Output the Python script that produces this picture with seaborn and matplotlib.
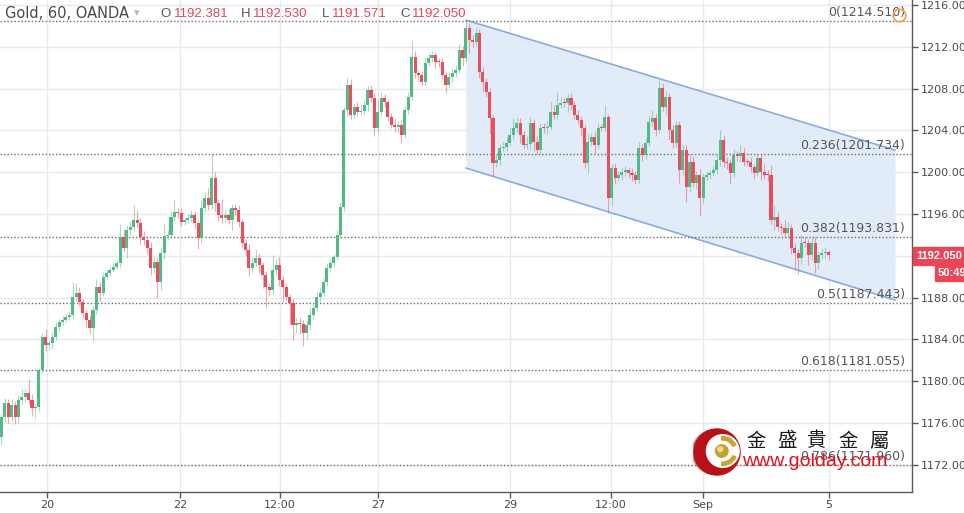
import numpy as np
import pandas as pd
import matplotlib
matplotlib.use("Agg")
import matplotlib.pyplot as plt
import seaborn as sns
from matplotlib.patches import Circle, Wedge, Rectangle

# ---------------- data ----------------
first_open = 1174.66
closes = [
    1176.58, 1177.91, 1176.58, 1177.72, 1176.58, 1178.20, 1178.49, 1178.87, 1178.20, 1177.44,
    1177.53, 1181.07, 1184.23, 1183.47, 1183.66, 1184.23, 1185.19, 1185.67, 1185.86, 1186.14,
    1186.33, 1188.06, 1188.44, 1187.58, 1186.53, 1185.86, 1185.09, 1186.81, 1189.01, 1188.44,
    1189.97, 1190.35, 1190.64, 1190.93, 1191.31, 1193.80, 1192.75, 1194.47,
    1194.76, 1195.43, 1195.14, 1193.80, 1193.51, 1192.75, 1190.83, 1191.41, 1189.49, 1192.27,
    1193.90, 1193.99, 1195.71, 1196.19, 1196.10, 1195.24, 1195.43, 1195.62, 1195.90, 1195.14,
    1193.70, 1196.57, 1197.53, 1196.86, 1199.44, 1197.05, 1195.90, 1195.62, 1195.90, 1195.43,
    1196.57, 1196.38, 1195.24, 1193.22, 1192.56, 1190.83, 1191.31, 1191.79, 1191.12, 1190.16,
    1189.01, 1188.73, 1190.64, 1191.12, 1189.68, 1189.01, 1188.06, 1187.48, 1185.38, 1185.57,
    1185.50, 1184.61, 1185.38, 1186.33, 1187.00, 1188.06, 1188.44, 1189.49, 1190.83, 1191.31,
    1191.89, 1193.99, 1196.67,
    1205.95, 1208.34, 1205.47, 1206.24, 1205.76, 1205.86, 1206.43, 1207.87, 1207.10, 1204.23,
    1205.76, 1207.10, 1206.72, 1205.28, 1204.52, 1204.33, 1204.52, 1203.56, 1205.95, 1207.20,
    1211.02, 1209.49, 1209.30, 1208.63, 1210.45, 1210.93, 1211.22, 1210.55, 1210.50, 1209.30,
    1208.34, 1209.11, 1209.49, 1209.78, 1211.69, 1210.93, 1213.80, 1212.65, 1212.46, 1213.32,
    1209.59, 1208.63, 1207.67, 1205.19, 1200.88, 1201.17,
    1202.32, 1202.41, 1202.79, 1203.56, 1204.23, 1204.71, 1203.56, 1202.60, 1202.70, 1204.71,
    1202.89, 1202.12, 1204.23, 1204.20, 1204.33, 1205.76, 1205.47, 1206.43, 1206.62, 1206.60,
    1207.10, 1206.43, 1205.47, 1205.00, 1204.23, 1200.88,
    1202.89, 1203.37, 1202.60, 1204.23, 1204.20, 1205.28, 1197.53, 1200.40, 1199.44, 1199.73,
    1200.01, 1200.21, 1199.92, 1199.73, 1199.25, 1202.32, 1201.65, 1202.79, 1204.80, 1205.19,
    1204.04, 1208.06, 1206.24, 1207.20, 1204.04, 1202.79, 1204.52, 1200.21, 1202.12, 1198.58,
    1200.98, 1198.97, 1199.73, 1197.53, 1199.54, 1199.73, 1199.92, 1200.21, 1201.17, 1203.08,
    1200.98, 1200.88, 1199.92, 1201.65, 1201.60, 1201.84, 1200.98, 1200.95, 1200.50, 1199.92,
    1201.36, 1200.01, 1199.73, 1199.70, 1195.43, 1195.71, 1194.76, 1194.66, 1194.18, 1194.66,
    1192.75, 1192.27, 1191.79, 1193.22, 1193.20, 1192.08, 1193.22, 1191.31, 1192.08, 1192.27,
    1192.36, 1192.05,
]
# wick lengths beyond the body, in tenths of a dollar
wick_up = [
    3, 5, 4, 6, 4, 5, 8, 4, 13, 6,   3, 2, 4, 8, 3, 4, 5, 3, 4, 3,
    4, 14, 10, 6, 3, 3, 5, 4, 8, 5,  4, 3, 3, 4, 3, 12, 8, 5, 6, 14,
    10, 5, 6, 4, 6, 5, 4, 6, 12, 5,  6, 12, 4, 5, 3, 4, 5, 4, 3, 8,
    6, 10, 22, 6, 4, 15, 5, 6, 4, 4, 5, 3, 4, 6, 5, 8, 5, 3, 4, 4,
    14, 6, 8, 5, 4, 3, 4, 5, 6, 4,   5, 8, 4, 5, 6, 4, 5, 4, 3, 5,
    5, 3, 7, 6, 4, 5, 6, 5, 4, 5,    4, 12, 6, 4, 3, 4, 6, 4, 5, 4,
    5, 15, 6, 3, 4, 6, 5, 4, 3, 4,   4, 3, 5, 4, 5, 6, 4, 7, 4, 5,
    5, 4, 5, 4, 4, 3, 6, 4, 5, 6,    8, 10, 6, 5, 4, 8, 6, 4, 6, 5,
    5, 6, 10, 7, 12, 6, 5, 4, 5, 4,  5, 4, 3, 8, 4, 6, 5, 4, 12, 3,
    4, 5, 4, 5, 4, 3, 5, 4, 6, 4,    5, 6, 8, 4, 8, 5, 6, 4, 5, 4,
    4, 6, 5, 8, 6, 4, 6, 4, 4, 3,    4, 6, 10, 4, 5, 4, 6, 4, 8, 5,
    4, 5, 3, 5, 4, 8, 5, 10, 12, 5,  4, 8, 6, 4, 5, 4, 8, 6, 4, 6,
    6, 4, 5, 5, 1,
]
wick_dn = [
    8, 5, 6, 4, 7, 6, 5, 5, 4, 8,    10, 4, 3, 6, 5, 6, 3, 4, 3, 2,
    3, 3, 4, 3, 5, 8, 6, 12, 4, 9,   3, 2, 3, 2, 3, 4, 4, 10, 5, 4,
    4, 8, 5, 6, 7, 5, 15, 8, 6, 4,   3, 4, 5, 4, 3, 3, 4, 6, 10, 5,
    4, 5, 4, 8, 6, 5, 5, 4, 10, 5,   5, 4, 6, 8, 4, 4, 8, 12, 20, 6,
    4, 5, 6, 14, 4, 20, 14, 8, 10, 12, 6, 4, 4, 3, 5, 3, 4, 3, 4, 3,
    3, 4, 6, 4, 3, 4, 3, 4, 6, 4,    8, 5, 4, 6, 4, 3, 5, 6, 8, 3,
    4, 3, 5, 6, 4, 4, 3, 4, 6, 4,    4, 8, 3, 5, 4, 3, 8, 4, 12, 5,
    4, 6, 10, 5, 15, 12, 4, 5, 3, 4, 3, 4, 5, 8, 3, 4, 6, 9, 4, 4,
    4, 5, 3, 4, 4, 3, 4, 8, 5, 4,    4, 8, 5, 10, 3, 8, 4, 3, 3, 14,
    8, 6, 3, 5, 4, 5, 6, 4, 3, 6,    4, 3, 4, 6, 3, 4, 8, 10, 5, 4,
    12, 5, 14, 5, 4, 6, 16, 6, 3, 4, 3, 4, 6, 5, 6, 10, 4, 5, 6, 4,
    4, 5, 6, 3, 8, 4, 5, 4, 10, 4,   6, 4, 5, 6, 16, 15, 6, 4, 10, 5,
    10, 6, 4, 5, 5,
]
last_ohlc = [1192.381, 1192.530, 1191.571, 1192.050]
countdown = "50:49"

xtick_pos = [13.4, 52.7, 82.2, 111.1, 150.0, 179.8, 206.9, 244.1]
xtick_labels = ["20", "22", "12:00", "27", "29", "12:00", "Sep", "5"]
ytick_vals = list(range(1172, 1217, 4))

fib_ratios = ["0", "0.236", "0.382", "0.5", "0.618", "0.786"]
fib_prices = [1214.510, 1201.734, 1193.831, 1187.443, 1181.055, 1171.960]

channel_x = [137.0, 263.6]
channel_upper = [1214.56, 1202.12]
channel_lower = [1200.40, 1187.77]

# ---------------- build OHLC ----------------
n = len(closes)
opens = [first_open] + closes[:-1]
opens[-1] = last_ohlc[0]
highs = [max(o, c) + u / 10 for o, c, u in zip(opens, closes, wick_up)]
lows = [min(o, c) - d / 10 for o, c, d in zip(opens, closes, wick_dn)]
highs[-1] = last_ohlc[1]
lows[-1] = last_ohlc[2]
df = pd.DataFrame({"i": np.arange(n), "open": opens, "high": highs,
                   "low": lows, "close": closes})
df["up"] = df["close"] >= df["open"]

UP = "#53b987"
DN = "#eb4d5c"

sns.set_theme(style="white")
plt.rcParams["font.family"] = ["DejaVu Sans"]

W, H = 964, 513
fig = plt.figure(figsize=(W / 100, H / 100), dpi=100)
fig.patch.set_facecolor("white")
ax = fig.add_axes([0, 21 / H, 912 / W, 492 / H])
ax.set_facecolor("white")
ax.set_xlim(-0.44, 268.6)
ax.set_ylim(1169.40, 1216.48)

# grid
for p in xtick_pos:
    ax.axvline(p, color="#e6eaf0", lw=1, zorder=0)
for v in ytick_vals:
    ax.axhline(v, color="#e6eaf0", lw=1, zorder=0)

# channel
ax.fill_between(channel_x, channel_lower, channel_upper, color="#e2ebf8", zorder=0.5, lw=0)
sns.lineplot(x=channel_x, y=channel_upper, ax=ax, color="#8aabe0", lw=1.2, zorder=1)
sns.lineplot(x=channel_x, y=channel_lower, ax=ax, color="#8aabe0", lw=1.2, zorder=1)

# fib levels
for r, p in zip(fib_ratios, fib_prices):
    ax.axhline(p, color="#6f6f6f", lw=1, ls=(0, (1, 1.5)), zorder=1.5)
    ax.annotate(f"{r}({p:.3f})", xy=(905 / 912, p), xycoords=ax.get_yaxis_transform(),
                xytext=(0, 1.5), textcoords="offset points", ha="right", va="bottom",
                fontsize=9, color="#555555", zorder=2)

# candles
for up, col in [(True, UP), (False, DN)]:
    d = df[df["up"] == up]
    ax.vlines(d["i"], d["low"], d["high"], color=col, lw=0.8, alpha=0.5, zorder=2.5)
    body_b = np.minimum(d["open"], d["close"])
    body_h = np.maximum(np.abs(d["close"] - d["open"]), 0.1)
    ax.bar(d["i"], body_h, bottom=body_b, width=0.9, color=col, lw=0, zorder=3)

# orange handle
ax.plot([264.7], [1215.04], marker="o", ms=9, mfc="none", mec="#f0a050", mew=1.2, zorder=4)

# axes style
for s in ["top", "left"]:
    ax.spines[s].set_visible(False)
for s in ["right", "bottom"]:
    ax.spines[s].set_color("#5a5a5a")
    ax.spines[s].set_linewidth(1)
ax.yaxis.tick_right()
ax.set_yticks(ytick_vals)
# the 1192 label sits under the price tag in the reference
ax.set_yticklabels(["" if v == 1192 else f"{v:.3f}" for v in ytick_vals])
ax.set_xticks(xtick_pos)
ax.set_xticklabels(xtick_labels)
ax.tick_params(axis="y", which="both", right=True, left=False, length=4, width=1,
               color="#5a5a5a", pad=2, labelsize=8, labelcolor="#4a4a4a")
ax.tick_params(axis="x", which="both", bottom=True, length=4, width=1,
               color="#5a5a5a", pad=2, labelsize=8, labelcolor="#4a4a4a")
ax.set_xlabel("")
ax.set_ylabel("")


def fx(x):
    return x / W


def fy(y):
    return 1 - y / H


# header
fig.text(fx(5), fy(14), "Gold, 60, OANDA", fontsize=10.5, color="#4a4a4a", va="center")
fig.text(fx(134), fy(13), "\u25be", fontsize=8, color="#b5b5b5", va="center")
hdr = [("O", 160, 174, last_ohlc[0]), ("H", 241, 253, last_ohlc[1]),
       ("L", 322, 332, last_ohlc[2]), ("C", 400, 412, last_ohlc[3])]
for lab, xl, xv, val in hdr:
    fig.text(fx(xl), fy(14), lab, fontsize=9.5, color="#555555", va="center",
             family=["Liberation Sans"])
    fig.text(fx(xv), fy(14), f"{val:.3f}", fontsize=9.5, color="#e0475a", va="center",
             family=["Liberation Sans"])

# price tags
fig.patches.append(Rectangle((fx(913), fy(265)), fx(964 - 913) + 0.01, 18 / H,
                             transform=fig.transFigure, color="#e8475a", zorder=5))
fig.text(fx(916), fy(256), f"{last_ohlc[3]:.3f}", fontsize=8, color="white",
         fontweight="bold", va="center", zorder=6, family=["Liberation Sans"])
fig.patches.append(Rectangle((fx(935), fy(281)), fx(964 - 935) + 0.01, 15 / H,
                             transform=fig.transFigure, color="#e8475a", zorder=5))
fig.text(fx(938), fy(273), countdown, fontsize=8, color="white",
         fontweight="bold", va="center", zorder=6, family=["Liberation Sans"])

# watermark logo
lax = fig.add_axes([fx(693), fy(476), 48 / W, 48 / H])
lax.set_xlim(0, 1)
lax.set_ylim(0, 1)
lax.axis("off")
lax.add_patch(Circle((0.5, 0.5), 0.48, color="#c3161c"))
lax.add_patch(Circle((0.44, 0.5), 0.46, color="#a80d14", alpha=0.4))
lax.add_patch(Circle((0.62, 0.52), 0.34, color="white"))
lax.add_patch(Wedge((0.62, 0.52), 0.30, 25, 95, width=0.07, color="#c9a43a"))
lax.add_patch(Wedge((0.62, 0.52), 0.30, 265, 335, width=0.07, color="#c9a43a"))
lax.add_patch(Circle((0.60, 0.52), 0.13, color="#c8a02c"))
lax.add_patch(Circle((0.57, 0.56), 0.05, color="#f0dc8a"))

for ch, cx in zip("金盛貴金屬", [756, 787, 817, 848, 879]):
    fig.text(fx(cx), fy(441), ch, fontsize=14, color="#1a1a1a", ha="center", va="center",
             family=["Noto Sans CJK TC", "DejaVu Sans"], zorder=7)
fig.text(fx(742), fy(462), "www.golday.com", fontsize=14, color="#e8101e", ha="left",
         va="center", family=["Liberation Sans"], zorder=7)

fig.savefig("out.png", dpi=100, facecolor="white")
